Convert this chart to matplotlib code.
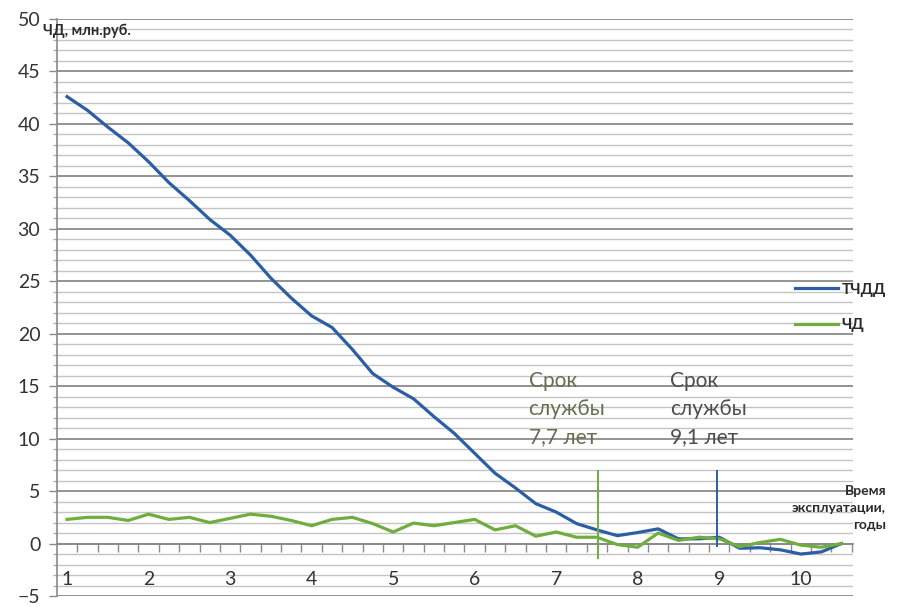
import numpy as np
import matplotlib
matplotlib.use("Agg")
import matplotlib.pyplot as plt
from matplotlib.ticker import MultipleLocator

plt.rcParams['font.family'] = ['Lato', 'DejaVu Sans']

# quarterly points, years of operation
years = [1 + 0.25 * i for i in range(39)]

tchdd = [42.6, 41.3, 39.7, 38.2, 36.4, 34.4, 32.7, 30.9, 29.4, 27.5,
         25.3, 23.4, 21.7, 20.6, 18.5, 16.2, 14.9, 13.8, 12.1, 10.5,
         8.6, 6.7, 5.3, 3.8, 3.0, 1.9, 1.3, 0.75, 1.05, 1.4,
         0.45, 0.45, 0.6, -0.45, -0.4, -0.6, -1.0, -0.8, 0.0]

chd = [2.3, 2.5, 2.5, 2.2, 2.8, 2.3, 2.5, 2.0, 2.4, 2.8,
       2.6, 2.2, 1.7, 2.3, 2.5, 1.9, 1.1, 1.95, 1.7, 2.0,
       2.3, 1.3, 1.7, 0.7, 1.1, 0.6, 0.6, -0.1, -0.35, 1.0,
       0.3, 0.6, 0.45, -0.3, 0.1, 0.4, -0.15, -0.35, 0.0]

year_labels = [1, 2, 3, 4, 5, 6, 7, 8, 9, 10]

# service life markers (position on chart, label)
life_pos = [7.515, 8.975]
life_text = ["Срок\nслужбы\n7,7 лет", "Срок\nслужбы\n9,1 лет"]

blue = '#2b5ea4'
green = '#6fad3c'

fig = plt.figure(figsize=(9.11, 6.07), dpi=100)
ax = fig.add_axes([57 / 911, 1 - 596 / 607, (853 - 57) / 911, (596 - 19) / 607])

ax.set_ylim(-5, 50)
ax.set_xlim(0.877, 10.64)

ax.yaxis.set_major_locator(MultipleLocator(5))
ax.yaxis.set_minor_locator(MultipleLocator(1))
ax.grid(axis='y', which='major', color='#8a8a8a', lw=1.3, zorder=0)
ax.grid(axis='y', which='minor', color='#c4c4c4', lw=1.0, zorder=0)

for s in ['top', 'right']:
    ax.spines[s].set_visible(False)
ax.spines['left'].set_color('#8a8a8a')
ax.spines['left'].set_linewidth(1.2)
ax.spines['bottom'].set_position(('data', 0))
ax.spines['bottom'].set_color('#8a8a8a')
ax.spines['bottom'].set_linewidth(1.3)

ax.set_xticks(np.arange(1.125, 10.7, 0.25))
ax.tick_params(axis='x', which='both', direction='out', length=6, width=1,
               color='#8a8a8a', labelbottom=False)
ax.tick_params(axis='y', which='major', length=6, width=1, color='#8a8a8a',
               labelsize=14, labelcolor='#333333', pad=6)
ax.tick_params(axis='y', which='minor', length=3, width=1, color='#b0b0b0')

for yv in year_labels:
    ax.text(yv, -3.4, str(yv), ha='center', va='center', fontsize=14,
            color='#333333')

ax.plot(years, tchdd, color=blue, lw=2.3, label='ТЧДД', zorder=3,
        solid_joinstyle='round')
ax.plot(years, chd, color=green, lw=2.3, label='ЧД', zorder=3,
        solid_joinstyle='round')

ax.vlines(life_pos[0], -1.5, 7.0, color=green, lw=1.4, zorder=4)
ax.vlines(life_pos[1], -0.3, 7.0, color=blue, lw=1.4, zorder=4)

ax.text(6.66, 16.4, life_text[0], ha='left', va='top', fontsize=15,
        color='#63704f', linespacing=1.5)
ax.text(8.40, 16.4, life_text[1], ha='left', va='top', fontsize=15,
        color='#4d4d4d', linespacing=1.5)

fig.text(43 / 911, 1 - 31 / 607, 'ЧД, млн.руб.', ha='left', va='center',
         fontsize=10.5, fontweight='bold', color='#2a2a2a')
fig.text(886 / 911, 1 - 508 / 607, 'Время\nэксплуатации,\nгоды', ha='right',
         va='center', fontsize=10, fontweight='bold', color='#2a2a2a',
         multialignment='right', linespacing=1.5)

leg = ax.legend(loc='upper left', bbox_to_anchor=(781 / 911, 1 - 269 / 607),
                bbox_transform=fig.transFigure, frameon=False, fontsize=11,
                handlelength=2.8, handletextpad=0.25, labelspacing=1.4)
for t in leg.get_texts():
    t.set_fontweight('bold')
    t.set_color('#2a2a2a')

fig.savefig('out.png', dpi=100)
